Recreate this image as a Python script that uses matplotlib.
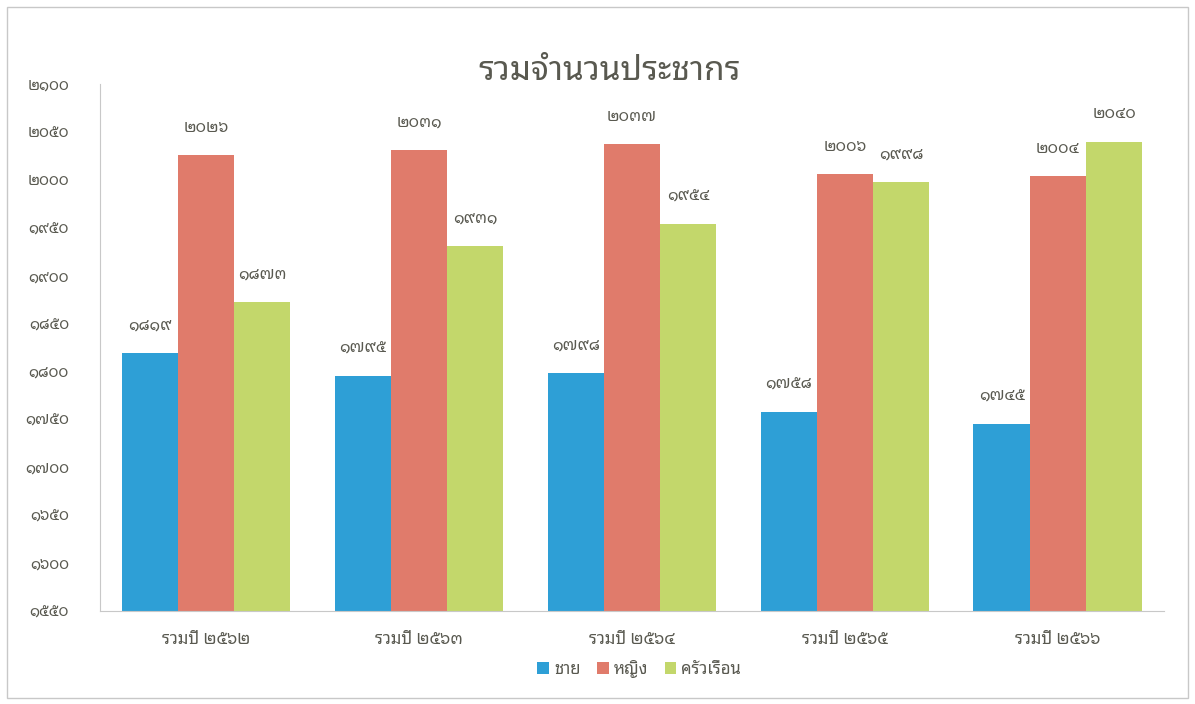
import matplotlib
matplotlib.use("Agg")
import matplotlib.pyplot as plt
import numpy as np
from matplotlib.patches import Rectangle, Patch

plt.rcParams['font.family'] = ['Noto Sans Thai Looped', 'Noto Sans Thai', 'Sarabun', 'DejaVu Sans']

categories = ["รวมปี ๒๕๖๒", "รวมปี ๒๕๖๓", "รวมปี ๒๕๖๔", "รวมปี ๒๕๖๕", "รวมปี ๒๕๖๖"]
series_names = ["ชาย", "หญิง", "ครัวเรือน"]
male = [1819, 1795, 1798, 1758, 1745]
female = [2026, 2031, 2037, 2006, 2004]
household = [1873, 1931, 1954, 1998, 2040]
yticks = list(range(1550, 2101, 50))

colors = ['#2E9FD6', '#E07B6B', '#C3D76B']
text_color = '#595950'

thai = str.maketrans("0123456789", "๐๑๒๓๔๕๖๗๘๙")


def to_thai(n):
    return str(n).translate(thai)


fig = plt.figure(figsize=(11.95, 7.04), dpi=100)
ax = fig.add_axes([0.0833, 0.132, 0.891, 0.7486])

x = np.arange(len(categories))
w = 0.264
for i, (vals, c, name) in enumerate(zip([male, female, household], colors, series_names)):
    pos = x + (i - 1) * w
    ax.bar(pos, np.array(vals) - 1550, bottom=1550, width=w, color=c, label=name)
    for px, v in zip(pos, vals):
        ax.annotate(to_thai(v), (px, v), xytext=(0, 14), textcoords='offset points',
                    ha='center', va='bottom', fontsize=11.5, fontweight='bold', color=text_color)

ax.set_xlim(-0.5, 4.5)
ax.set_ylim(1550, 2100)
ax.set_yticks(yticks)
ax.set_yticklabels([to_thai(t) for t in yticks], fontsize=11, fontweight='bold', color=text_color)
ax.set_xticks(x)
ax.set_xticklabels(categories, fontsize=12, color=text_color)
ax.tick_params(axis='y', length=0, pad=22)
ax.tick_params(axis='x', length=0, pad=15)
for s in ['top', 'right']:
    ax.spines[s].set_visible(False)
for s in ['left', 'bottom']:
    ax.spines[s].set_color('#c8c8c8')

fig.text(0.51, 0.898, "รวมจำนวนประชากร", ha='center', va='center', fontsize=24,
         fontweight='bold', color=text_color)

handles = [Patch(facecolor=c, label=n) for c, n in zip(colors, series_names)]
fig.legend(handles=handles, loc='center', bbox_to_anchor=(0.535, 0.05), ncol=3, frameon=False,
           fontsize=12, handlelength=0.7, handleheight=0.7, handletextpad=0.3, columnspacing=1.0,
           labelcolor=text_color)

fig.patches.append(Rectangle((0.006, 0.008), 0.988, 0.982, transform=fig.transFigure,
                             fill=False, edgecolor='#c8c8c8', linewidth=1))

fig.savefig("out.png")
